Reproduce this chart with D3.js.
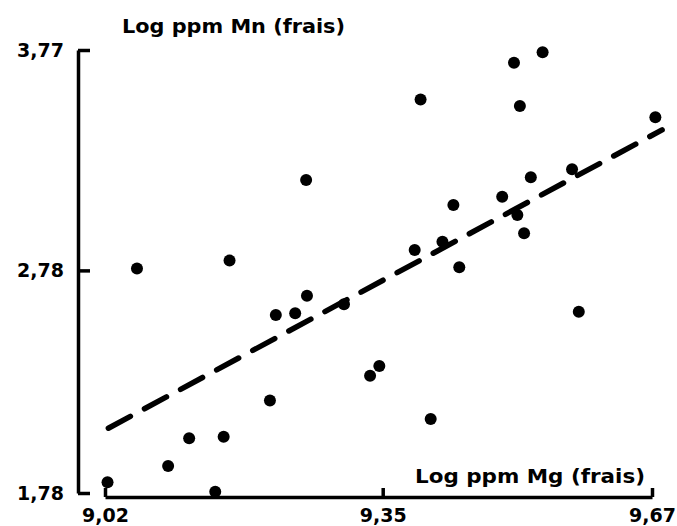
<!DOCTYPE html>
<html>
<head>
<meta charset="utf-8">
<script src="https://cdn.jsdelivr.net/npm/d3@7"></script>
<style>
  html, body { margin: 0; padding: 0; background: #fff; }
  svg { display: block; }
  text { font-family: "DejaVu Sans", "Liberation Sans", sans-serif; font-weight: bold; fill: #000; }
</style>
</head>
<body>
<svg id="chart" width="677" height="526"></svg>
<script>
// ---- Data ----
const mgLog = [9.023, 9.058, 9.095, 9.120, 9.151, 9.161, 9.168, 9.216, 9.223, 9.246,
               9.260, 9.259, 9.304, 9.335, 9.346, 9.388, 9.395, 9.407, 9.421, 9.434,
               9.441, 9.492, 9.506, 9.510, 9.513, 9.518, 9.526, 9.540, 9.575, 9.583, 9.674];
const mnLog = [1.828, 2.789, 1.901, 2.026, 1.786, 2.033, 2.824, 2.196, 2.580, 2.587,
               2.666, 3.186, 2.628, 2.307, 2.350, 2.872, 3.548, 2.112, 2.909, 3.074,
               2.794, 3.111, 3.713, 3.029, 3.518, 2.947, 3.198, 3.760, 3.234, 2.594, 3.468];
const fitX = [9.024, 9.682];
const fitY = [2.071, 3.411];
const xTicks = [9.02, 9.35, 9.67];
const xTickLabels = ["9,02", "9,35", "9,67"];
const yTicks = [1.78, 2.78, 3.77];
const yTickLabels = ["1,78", "2,78", "3,77"];
const xTitle = "Log ppm Mg (frais)";
const yTitle = "Log ppm Mn (frais)";

// ---- Drawing ----
const svg = d3.select("#chart");
const x = d3.scaleLinear().domain([9.02, 9.67]).range([105, 652]);
const y = d3.scaleLinear().domain([1.78, 3.77]).range([493, 50]);

// Y axis
const yAxis = d3.axisLeft(y)
  .tickValues(yTicks)
  .tickFormat((d, i) => yTickLabels[i])
  .tickSizeInner(-12)
  .tickSizeOuter(0)
  .tickPadding(14);
const gy = svg.append("g").attr("transform", "translate(78,0)").call(yAxis);
gy.select(".domain").attr("stroke", "#000").attr("stroke-width", 3.5);
gy.selectAll(".tick line").attr("stroke", "#000").attr("stroke-width", 3.5);
gy.selectAll(".tick text").attr("font-size", 19).attr("font-family", "DejaVu Sans").attr("font-weight", "bold").attr("fill", "#000");

// X axis
const xAxis = d3.axisBottom(x)
  .tickValues(xTicks)
  .tickFormat((d, i) => xTickLabels[i])
  .tickSizeInner(-9)
  .tickSizeOuter(0)
  .tickPadding(12);
const gx = svg.append("g").attr("transform", "translate(0,497)").call(xAxis);
gx.select(".domain").attr("stroke", "#000").attr("stroke-width", 3.5);
gx.selectAll(".tick line").attr("stroke", "#000").attr("stroke-width", 3.5);
gx.selectAll(".tick text").attr("font-size", 19).attr("font-family", "DejaVu Sans").attr("font-weight", "bold").attr("fill", "#000");

// Titles
svg.append("text").attr("x", 122).attr("y", 33)
  .attr("font-size", 20).attr("textLength", 223).attr("lengthAdjust", "spacingAndGlyphs")
  .text(yTitle);
svg.append("text").attr("x", 415).attr("y", 483)
  .attr("font-size", 20).attr("textLength", 230).attr("lengthAdjust", "spacingAndGlyphs")
  .text(xTitle);

// Regression line (dashed)
const fit = fitX.map((d, i) => [d, fitY[i]]);
svg.append("path")
  .datum(fit)
  .attr("d", d3.line().x(d => x(d[0])).y(d => y(d[1])))
  .attr("fill", "none")
  .attr("stroke", "#000")
  .attr("stroke-width", 5.5)
  .attr("stroke-linecap", "round")
  .attr("stroke-dasharray", "25,16");

// Points
const pts = mgLog.map((d, i) => ({ x: d, y: mnLog[i] }));
svg.append("g").selectAll("circle")
  .data(pts)
  .join("circle")
  .attr("cx", d => x(d.x))
  .attr("cy", d => y(d.y))
  .attr("r", 6)
  .attr("fill", "#000");
</script>
</body>
</html>
